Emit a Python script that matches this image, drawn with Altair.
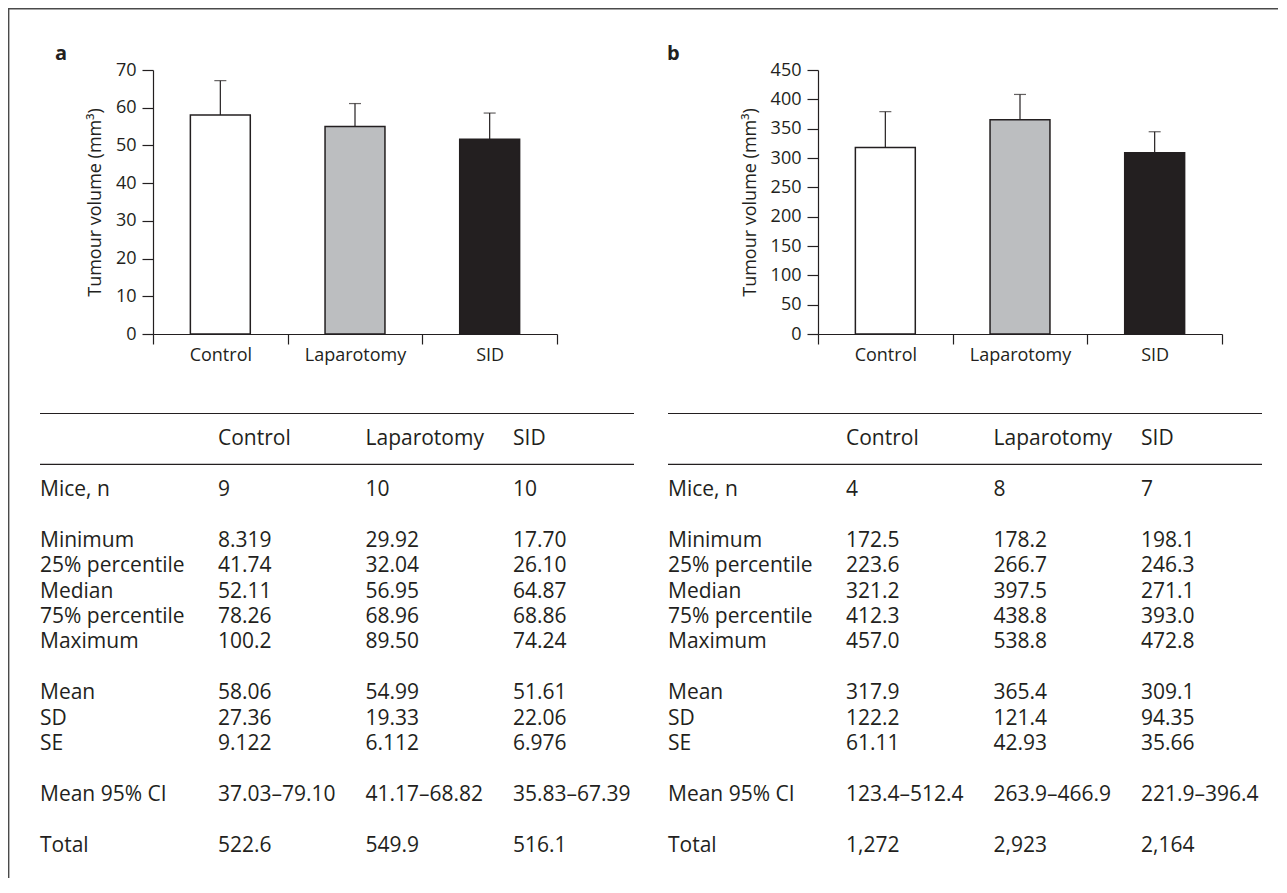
import altair as alt
import pandas as pd

# ---------------- data ----------------
GROUPS = ["Control", "Laparotomy", "SID"]

MEAN_A = [58.06, 54.99, 51.61]
SE_A = [9.122, 6.112, 6.976]
MEAN_B = [317.9, 365.4, 309.1]
SE_B = [61.11, 42.93, 35.66]

TICKS_A = [0, 10, 20, 30, 40, 50, 60, 70]
TICKS_B = [0, 50, 100, 150, 200, 250, 300, 350, 400, 450]

ROW_LABELS = ["Mice, n", "Minimum", "25% percentile", "Median", "75% percentile",
              "Maximum", "Mean", "SD", "SE", "Mean 95% CI", "Total"]

A_CONTROL = ["9", "8.319", "41.74", "52.11", "78.26", "100.2", "58.06", "27.36", "9.122", "37.03–79.10", "522.6"]
A_LAPAROTOMY = ["10", "29.92", "32.04", "56.95", "68.96", "89.50", "54.99", "19.33", "6.112", "41.17–68.82", "549.9"]
A_SID = ["10", "17.70", "26.10", "64.87", "68.86", "74.24", "51.61", "22.06", "6.976", "35.83–67.39", "516.1"]

B_CONTROL = ["4", "172.5", "223.6", "321.2", "412.3", "457.0", "317.9", "122.2", "61.11", "123.4–512.4", "1,272"]
B_LAPAROTOMY = ["8", "178.2", "266.7", "397.5", "438.8", "538.8", "365.4", "121.4", "42.93", "263.9–466.9", "2,923"]
B_SID = ["7", "198.1", "246.3", "271.1", "393.0", "472.8", "309.1", "94.35", "35.66", "221.9–396.4", "2,164"]

Y_TITLE = "Tumour volume (mm³)"

# ---------------- layout / style ----------------
FONT = "Open Sans"
INK = "#231f20"
FILLS = ["#ffffff", "#bcbec0", "#231f20"]
W, H = 1270, 870
OX, OY = 8, 8  # page position of the plot origin
TABLE_FS = 21
AXIS_FS = 18


def px(x):
    return x - OX


def py(y):
    return y - OY


# table row slots (spacer slots give the blank lines of the table)
SLOTS = ["_top", "_hdr", "_hline", "Mice, n", "_g1", "Minimum", "25% percentile", "Median",
         "75% percentile", "Maximum", "_g2", "Mean", "SD", "SE", "_g3", "Mean 95% CI", "_g4", "Total"]


def bar_panel(means, ses, ticks, ymax, x0, x1):
    df = pd.DataFrame({"group": GROUPS, "mean": means, "se": ses})
    xs = alt.Scale(domain=GROUPS, range=[px(x0), px(x1)], paddingInner=0, paddingOuter=0)
    ys = alt.Scale(domain=[0, ymax], range=[py(334), py(70)], nice=False, zero=True)
    x_axis = alt.Axis(orient="bottom", offset=py(334) - H, tickBand="extent", tickSize=10,
                      labelPadding=2, labelAngle=0, title=None, grid=False)
    y_axis = alt.Axis(orient="left", offset=-px(x0), values=ticks, tickSize=11,
                      labelPadding=6, title=Y_TITLE, titlePadding=11, grid=False)
    x = alt.X("group:N", scale=xs, sort=GROUPS, axis=x_axis)
    base = alt.Chart(df).transform_calculate(upper="datum.mean + datum.se")
    err = base.mark_rule(color=INK, strokeWidth=1.2).encode(
        x=x, y=alt.Y("mean:Q", scale=ys, axis=y_axis), y2="upper:Q")
    cap = base.mark_tick(color=INK, size=12, thickness=1.2).encode(
        x=x, y=alt.Y("upper:Q", scale=ys, axis=y_axis))
    bars = base.mark_bar(stroke=INK, strokeWidth=1.5, width=alt.RelativeBandSize(0.445)).encode(
        x=x, y=alt.Y("mean:Q", scale=ys, axis=y_axis),
        color=alt.Color("group:N", scale=alt.Scale(domain=GROUPS, range=FILLS), legend=None))
    return alt.layer(err, cap, bars)


def panel_letter(letter, x):
    return alt.Chart(pd.DataFrame({"t": [letter]})).mark_text(
        font=FONT, fontSize=20, fontWeight="bold", align="left", baseline="alphabetic", color=INK
    ).encode(x=alt.value(px(x)), y=alt.value(py(60)), text="t:N")


def table_panel(cols, x_label, x_first, x_last, x_end):
    rows = []
    for g, vals in zip(GROUPS, cols):
        rows.append({"row": "_hdr", "col": g, "text": g})
        for r, v in zip(ROW_LABELS, vals):
            rows.append({"row": r, "col": g, "text": v})
    df = pd.DataFrame(rows)
    ys = alt.Scale(type="point", domain=SLOTS, range=[py(413.5), py(846)], padding=0)
    xs = alt.Scale(type="point", domain=GROUPS, range=[px(x_first), px(x_last)], padding=0)
    y = alt.Y("row:N", scale=ys, axis=None)
    cells = alt.Chart(df).mark_text(align="left", baseline="middle", font=FONT, fontSize=TABLE_FS,
                                    color=INK).encode(
        x=alt.X("col:N", scale=xs, axis=None), y=y, text="text:N")
    labels = alt.Chart(pd.DataFrame({"row": ROW_LABELS})).mark_text(
        align="left", baseline="middle", font=FONT, fontSize=TABLE_FS, color=INK
    ).encode(x=alt.value(px(x_label)), y=y, text="row:N")
    lines = alt.Chart(pd.DataFrame({"row": ["_top", "_hline"]})).mark_rule(
        color=INK, strokeWidth=1.2).encode(x=alt.value(px(x_label)), x2=alt.value(px(x_end)), y=y)
    return alt.layer(lines, cells, labels)


one = pd.DataFrame({"k": [0]})
frame_top = alt.Chart(one).mark_rule(color="#4a4a4a", strokeWidth=1.4).encode(
    x=alt.value(0), x2=alt.value(W), y=alt.value(0.7))
frame_left = alt.Chart(one).mark_rule(color="#4a4a4a", strokeWidth=1.4).encode(
    x=alt.value(0.7), y=alt.value(0), y2=alt.value(H))

panel_a = bar_panel(MEAN_A, SE_A, TICKS_A, 70, 153, 557)
panel_b = bar_panel(MEAN_B, SE_B, TICKS_B, 450, 818, 1222)
table_a = table_panel([A_CONTROL, A_LAPAROTOMY, A_SID], 40, 218, 513, 634)
table_b = table_panel([B_CONTROL, B_LAPAROTOMY, B_SID], 668, 846, 1141, 1262)

chart = alt.layer(
    frame_top, frame_left,
    panel_a, panel_letter("a", 55),
    panel_b, panel_letter("b", 667),
    table_a, table_b,
).resolve_scale(
    x="independent", y="independent", color="independent"
).resolve_axis(
    x="independent", y="independent"
).properties(
    width=W, height=H, padding=0, autosize=alt.AutoSizeParams(type="none")
).configure_view(
    stroke=None
).configure_axis(
    labelFont=FONT, labelFontSize=AXIS_FS, labelColor=INK,
    titleFont=FONT, titleFontSize=AXIS_FS, titleFontWeight="normal", titleColor=INK,
    domainColor=INK, tickColor=INK, domainWidth=1.2, tickWidth=1.2, grid=False,
)

chart.save("out.html", embed_options={"renderer": "svg", "actions": False})
